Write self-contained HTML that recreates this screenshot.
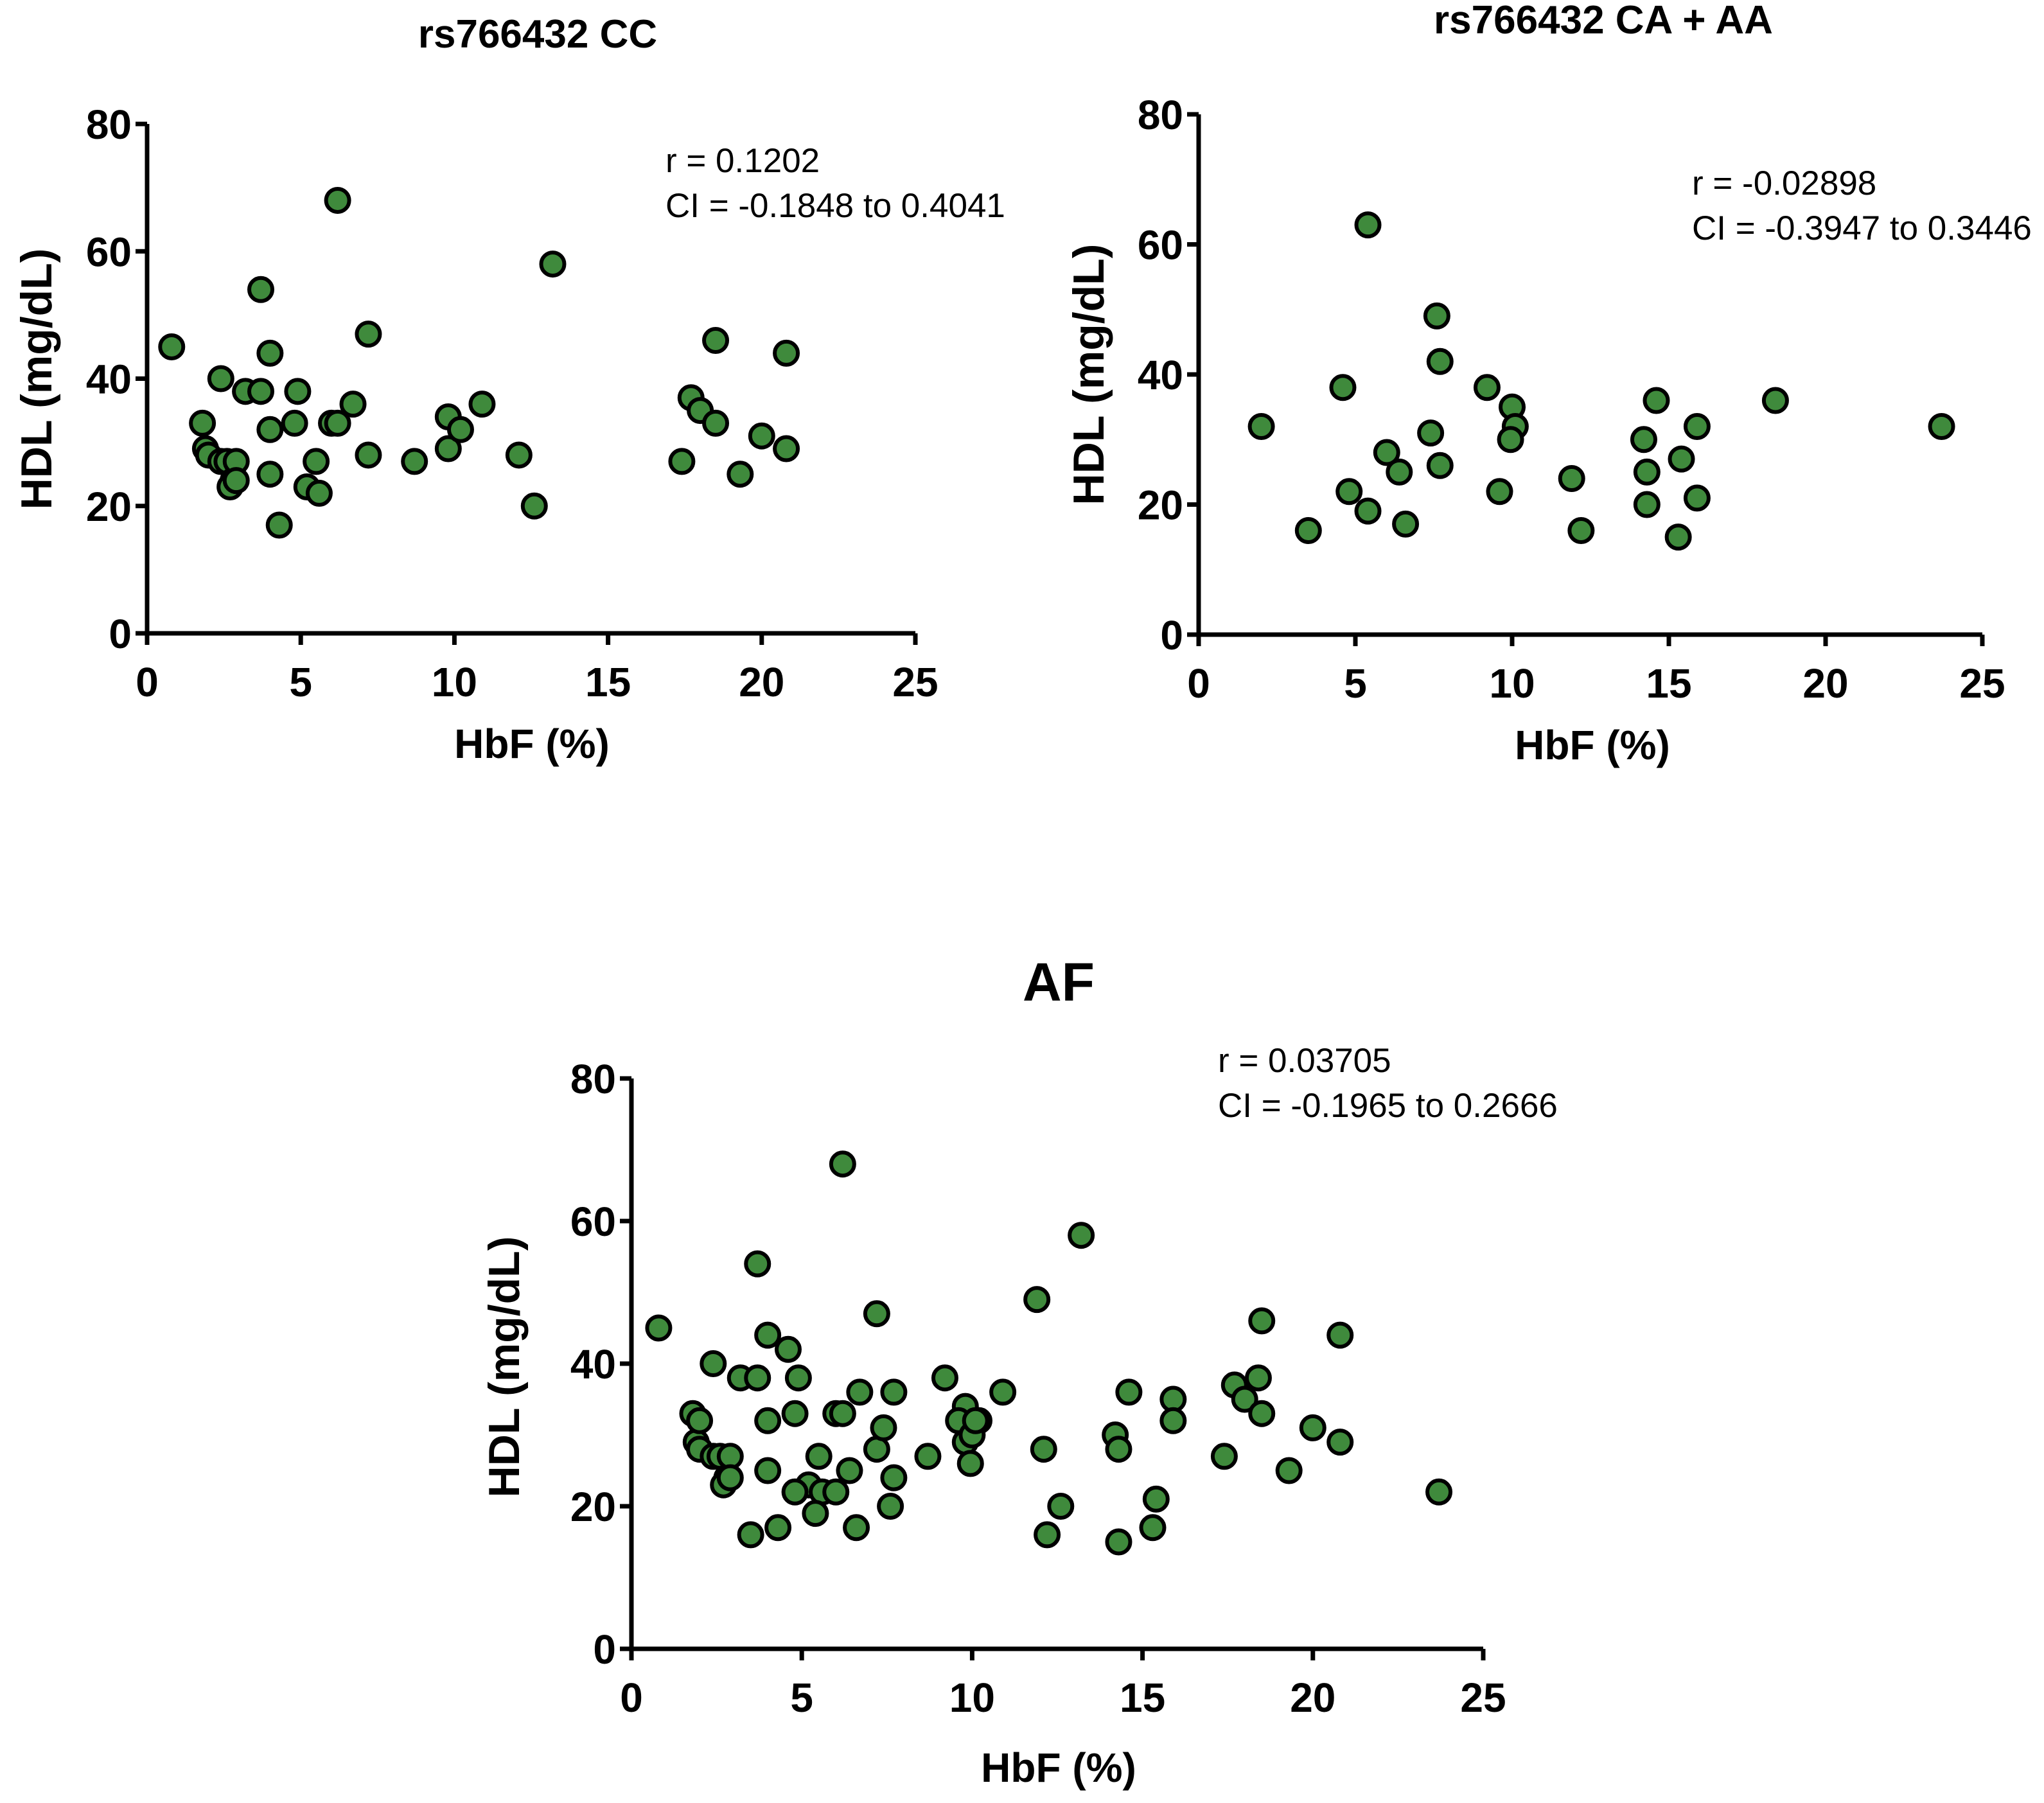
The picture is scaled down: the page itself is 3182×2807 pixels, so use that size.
<!DOCTYPE html>
<html><head><meta charset="utf-8"><style>
html,body{margin:0;padding:0;background:#fff}
svg{display:block}
text{font-family:"Liberation Sans",Arial,sans-serif}
</style></head><body>
<svg id="s" width="3182" height="2807" viewBox="0 0 3182 2807"></svg>
<script>
const ccX=[0.8,1.8,1.9,2,2.4,2.4,2.6,2.8,2.7,2.9,2.9,3.2,3.7,3.7,4.0,4.0,4.0,4.3,4.9,4.8,5.2,5.5,5.6,6,6.2,6.2,6.7,7.2,7.2,8.7,9.8,9.8,10.2,10.9,12.1,12.6,13.2,17.4,17.7,18,18.5,18.5,19.3,20,20.8,20.8];
const ccY=[45,33,29,28,40,27,27,24,23,27,24,38,38,54,44,32,25,17,38,33,23,27,22,33,68,33,36,47,28,27,34,29,32,36,28,20,58,27,37,35,46,33,25,31,44,29];
const caX=[2,3.5,4.6,4.8,5.4,5.4,6,6.4,6.6,7.4,7.6,7.7,7.7,9.2,9.6,10,10.1,9.95,11.9,12.2,14.2,14.3,14.3,14.6,15.4,15.3,15.9,15.9,18.4,23.7];
const caY=[32,16,38,22,63,19,28,25,17,31,49,42,26,38,22,35,32,30,24,16,30,25,20,36,27,15,32,21,36,32];
const afExtraX=[2,3.5,4.6,4.8,5.4,6,6.4,6.6,7.4,7.6,7.7,7.7,9.2,9.6,10,10.1,9.95,11.9,12.2,14.2,14.3,14.3,14.6,15.4,15.3,15.9,15.9,18.4,23.7];
const afExtraY=[32,16,42,22,19,22,25,17,31,20,24,36,38,32,30,32,26,49,16,30,28,15,36,21,17,35,32,38,22];
const afX=ccX.concat(afExtraX);
const afY=ccY.concat(afExtraY);
const xTicks=[0,5,10,15,20,25];
const yTicks=[0,20,40,60,80];
const NS="http://www.w3.org/2000/svg";
const svg=document.getElementById('s');
function el(tag,attrs,parent,txt){const e=document.createElementNS(NS,tag);for(const k in attrs)e.setAttribute(k,attrs[k]);if(txt!==undefined)e.textContent=txt;(parent||svg).appendChild(e);return e;}
function chart(cfg,xs,ys){
  const g=el('g',{});
  
  
  const sx=v=>cfg.x0+(cfg.x1-cfg.x0)*v/25;
  const sy=v=>cfg.y0+(cfg.y1-cfg.y0)*v/80;
  const t=el('text',{x:(cfg.x0+cfg.x1)/2+cfg.tdx,y:cfg.ty,'text-anchor':'middle','font-size':cfg.tfs,'font-weight':'bold'},g,cfg.title);
  
  
  const ax=el('path',{d:`M${cfg.x0} ${cfg.y1}V${cfg.y0}H${cfg.x1}`,stroke:'#000','stroke-width':7,fill:'none'},g);
  
  
  yTicks.forEach(v=>{
    el('line',{x1:cfg.x0-18,x2:cfg.x0,y1:sy(v),y2:sy(v),stroke:'#000','stroke-width':7},g);
    const l=el('text',{x:cfg.x0-24,y:sy(v)+23,'text-anchor':'end','font-size':64,'font-weight':'bold'},g,String(v));
    
    
  });
  xTicks.forEach(v=>{
    el('line',{x1:sx(v),x2:sx(v),y1:cfg.y0,y2:cfg.y0+18,stroke:'#000','stroke-width':7},g);
    const l=el('text',{x:sx(v),y:cfg.y0+98,'text-anchor':'middle','font-size':64,'font-weight':'bold'},g,String(v));
    
    
  });
  const xt=el('text',{x:cfg.xtx,y:cfg.xty,'text-anchor':'middle','font-size':64,'font-weight':'bold'},g,'HbF (%)');
  
  
  const yt=el('text',{x:0,y:0,'text-anchor':'middle','font-size':68,'font-weight':'bold',transform:`translate(${cfg.ytx},${cfg.yty}) rotate(-90)`,'xml:space':'preserve'},g,cfg.ytitle);
  
  
  const a1=el('text',{x:cfg.ax,y:cfg.ay,'font-size':53},g,cfg.r);
  
  
  const a2=el('text',{x:cfg.ax,y:cfg.ay+70,'font-size':53},g,cfg.ci);
  
  
  xs.forEach((v,i)=>{
    const c=el('circle',{cx:sx(v),cy:sy(ys[i]),r:18,fill:'#3f8a3c',stroke:'#000','stroke-width':6},g);
    
    
  });
}
chart({name:'chart-cc',x0:229,x1:1425,y0:986,y1:193,title:'rs766432 CC',tdx:10,ty:74,tfs:62,xtx:828,xty:1180,ytx:80,yty:590,ytitle:'HDL  (mg/dL)',r:'r = 0.1202',ci:'CI = -0.1848 to 0.4041',ax:1036,ay:268},ccX,ccY);
chart({name:'chart-ca-aa',x0:1866,x1:3086,y0:988,y1:178,title:'rs766432 CA + AA',tdx:20,ty:52,tfs:62,xtx:2479,xty:1182,ytx:1718,yty:583,ytitle:'HDL  (mg/dL)',r:'r = -0.02898',ci:'CI = -0.3947 to 0.3446',ax:2634,ay:303},caX,caY);
chart({name:'chart-af',x0:983,x1:2309,y0:2567,y1:1679,title:'AF',tdx:2,ty:1558,tfs:84,xtx:1648,xty:2774,ytx:808,yty:2128,ytitle:'HDL (mg/dL)',r:'r = 0.03705',ci:'CI = -0.1965 to 0.2666',ax:1896,ay:1669},afX,afY);
</script>
</body></html>
